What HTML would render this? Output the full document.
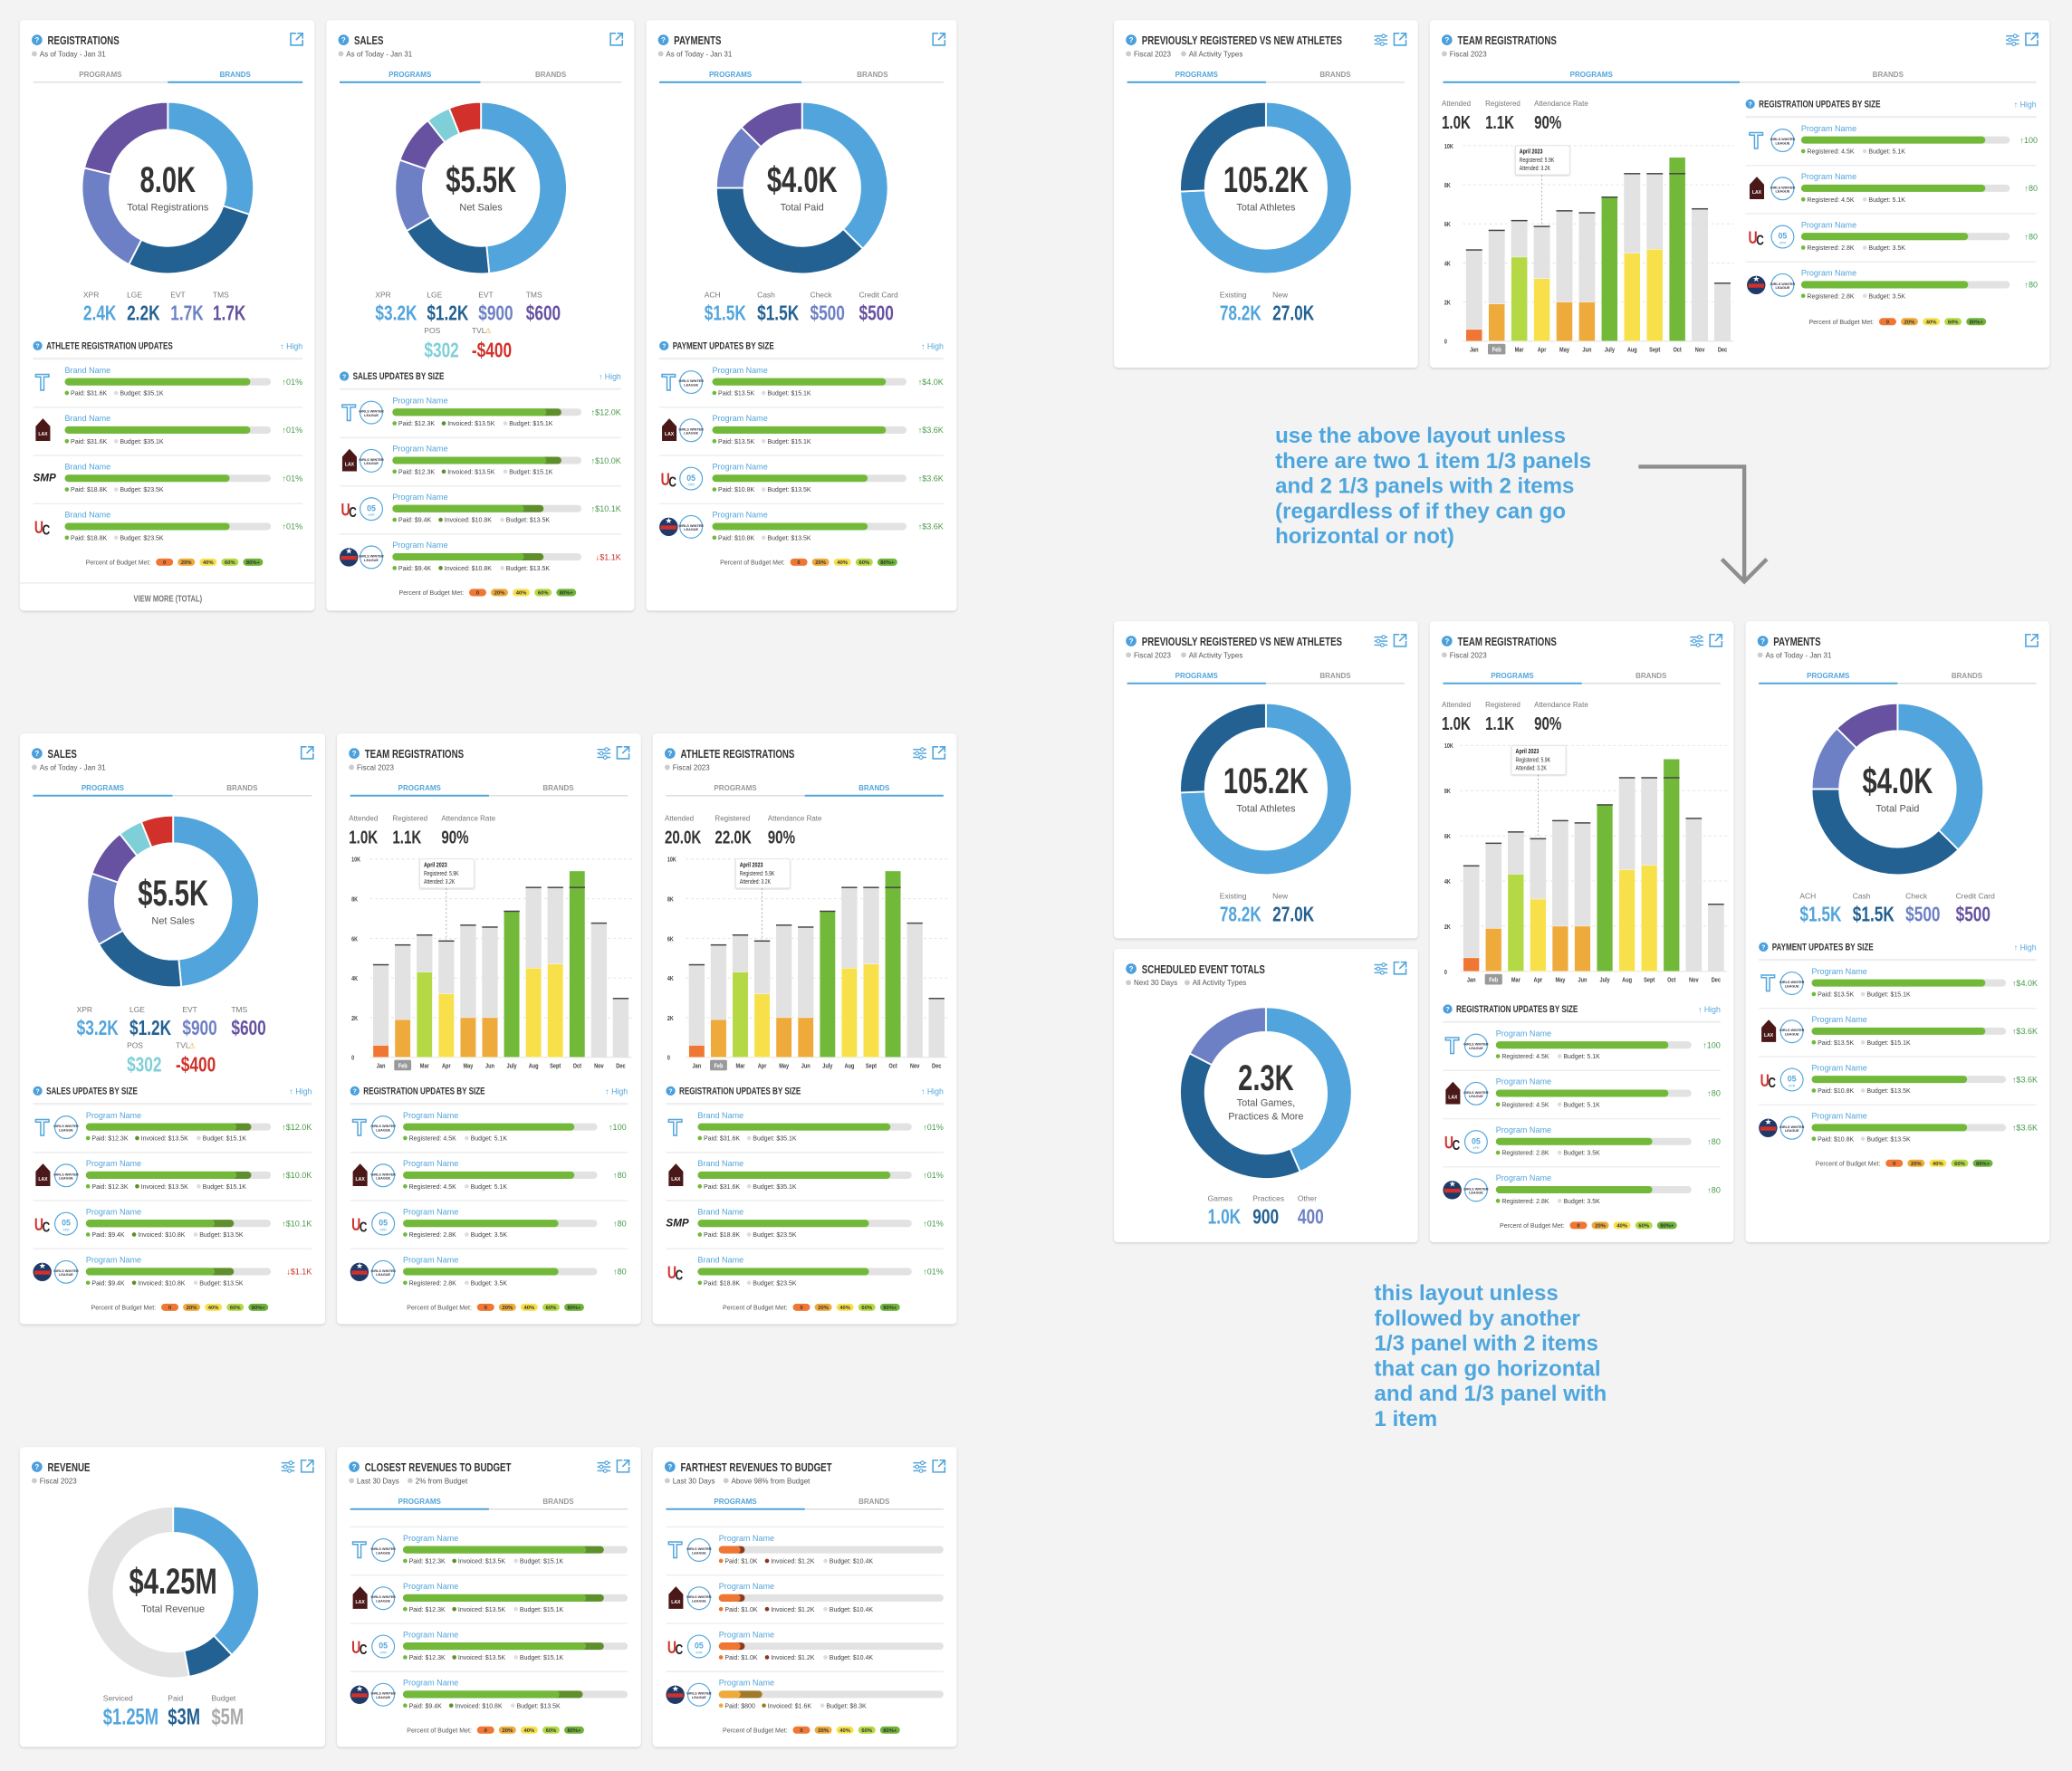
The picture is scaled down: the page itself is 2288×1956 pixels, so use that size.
<!DOCTYPE html>
<html><head><meta charset="utf-8">
<style>
html,body{margin:0;padding:0;background:#f3f3f3;overflow:hidden}
svg{display:block}
text{font-family:"Liberation Sans",sans-serif}
.n{font-family:"Liberation Sans Narrow","Liberation Sans",sans-serif}
</style></head>
<body>
<svg id="root" width="2288" height="1956" viewBox="0 0 1568 1340">
<defs><filter id="sh" x="-5%" y="-5%" width="110%" height="110%"><feDropShadow dx="0" dy="0.8" stdDeviation="1" flood-color="#000" flood-opacity="0.16"/></filter></defs>
<rect x="0" y="0" width="1568" height="1340" fill="#f3f3f3"/>
</svg>
<script>
// ---- chart data ----
const months=['Jan','Feb','Mar','Apr','May','Jun','July','Aug','Sept','Oct','Nov','Dec'];
const registeredK=[4.7,5.7,6.2,5.9,6.7,6.6,7.4,8.6,8.6,8.6,6.8,3.0];
const attendedK=[0.6,1.9,4.3,3.2,2.0,2.0,7.4,4.5,4.7,9.4,0,0];
const attendedBand=['orange','amber','lime','yellow','amber','amber','green','yellow','yellow','green','none','none'];
const yTicksK=[0,2,4,6,8,10];
const yTickLabels=['0','2K','4K','6K','8K','10K'];
const regValues=[2.4,2.2,1.7,1.7];
const regLabels=['XPR','LGE','EVT','TMS'];
const regPrinted=['2.4K','2.2K','1.7K','1.7K'];
const salesValues=[3.2,1.2,0.9,0.6,0.302,0.4];
const salesLabels=['XPR','LGE','EVT','TMS','POS','TVL'];
const salesPrinted=['$3.2K','$1.2K','$900','$600','$302','-$400'];
const payValues=[1.5,1.5,0.5,0.5];
const payLabels=['ACH','Cash','Check','Credit Card'];
const payPrinted=['$1.5K','$1.5K','$500','$500'];
const athleteValues=[78.2,27.0];
const athleteLabels=['Existing','New'];
const athletePrinted=['78.2K','27.0K'];
const eventValues=[1.0,0.9,0.4];
const eventLabels=['Games','Practices','Other'];
const eventPrinted=['1.0K','900','400'];
const revenueValues=[1.9,0.45,2.65];
const revenueLabels=['Serviced','Paid','Budget'];
const revenuePrinted=['$1.25M','$3M','$5M'];

const NS='http://www.w3.org/2000/svg';
const C={lb:'#52a5dc',db:'#236193',ind:'#6e80c5',pur:'#6652a0',teal:'#7fcfd8',red:'#d1312a',gray:'#e2e2e2',green:'#72b93a',dgreen:'#5e8f2c',orange:'#ef7733',amber:'#eeaa3a',yellow:'#f8e04b',lime:'#b5d944',g80:'#6fb43a',none:'none',brown:'#8a3a1e',olive:'#a07a2a'};
const root=document.getElementById('root');
function mk(tag,attrs,parent,name,inter){
  const e=document.createElementNS(NS,tag);
  for(const k in attrs)e.setAttribute(k,attrs[k]);
  
  
  parent.appendChild(e);return e;
}
function tx(p,x,y,s,size,fill,name,o){o=o||{};
  const a={x:x,y:y,'font-size':size,fill:fill,'font-weight':o.w||'normal','text-anchor':o.a||'start','class':o.n?'n':'','font-style':o.it?'italic':'normal'};
  if(o.n)a.transform='translate('+x+',0) scale(0.74,1) translate('+(-x)+',0)';
  const e=mk('text',a,p,name,o.i);
  e.textContent=s;return e;}
function arcPath(cx,cy,ro,ri,a0,a1){
  const r=a=>(a-90)*Math.PI/180;const p=(R,a)=>[cx+R*Math.cos(r(a)),cy+R*Math.sin(r(a))];
  const L=(a1-a0)>180?1:0;const A=p(ro,a0),B=p(ro,a1),Cc=p(ri,a1),D=p(ri,a0);
  return 'M'+A[0]+' '+A[1]+'A'+ro+' '+ro+' 0 '+L+' 1 '+B[0]+' '+B[1]+'L'+Cc[0]+' '+Cc[1]+'A'+ri+' '+ri+' 0 '+L+' 0 '+D[0]+' '+D[1]+'Z';}
function donut(g,cx,cy,ro,ri,vals,cols,names){
  const tot=vals.reduce((a,b)=>a+b,0);let a=0;
  vals.forEach((v,i)=>{const s=v/tot*360;mk('path',{d:arcPath(cx,cy,ro,ri,a,a+s),fill:cols[i],stroke:'#fff','stroke-width':1.3},g,'donut-slice-'+names[i].toLowerCase().replace(/ /g,'-'));a+=s;});}
function center(g,cx,y,big,lines){
  tx(g,cx,y,big,27,'#333','donut-center-value',{a:'middle',w:'bold',n:1});
  lines.forEach((l,i)=>tx(g,cx,y+14+i*10,l,7.5,'#555','donut-center-label',{a:'middle'}));}
function stats(g,xs,yl,yv,labels,printed,cols,size){
  labels.forEach((l,i)=>{tx(g,xs[i],yl,l,5.8,'#777','stat-label');
    tx(g,xs[i],yv,printed[i],size||16,cols[i],'stat-value',{w:'bold',n:1});});}
function panel(x,y,w,h,name){const g=mk('g',{},root,name);mk('rect',{x:x,y:y,width:w,height:h,rx:3,fill:'#fff',filter:'url(#sh)'},g,'panel-card');return g;}
function extIcon(g,ix,iy){mk('path',{d:'M'+(ix+4)+' '+iy+'H'+ix+'V'+(iy+9)+'H'+(ix+9)+'V'+(iy+5)+'M'+(ix+5)+' '+iy+'H'+(ix+9)+'V'+(iy+4)+'M'+(ix+9)+' '+iy+'L'+(ix+4)+' '+(iy+5),fill:'none',stroke:C.lb,'stroke-width':1.1},g,'open-external-icon',true);}
function filtIcon(g,ix,iy){const gg=mk('g',{},g,'filter-settings-icon',true);
  [1.5,4.5,7.5].forEach((d,i)=>{mk('line',{x1:ix,y1:iy+d,x2:ix+10,y2:iy+d,stroke:C.lb,'stroke-width':1},gg,'filter-line');
    mk('circle',{cx:ix+[7,3,6][i],cy:iy+d,r:1.3,fill:'#fff',stroke:C.lb,'stroke-width':0.8},gg,'filter-knob');});}
function header(g,x,y,w,title,subs,filt){
  mk('circle',{cx:x+13,cy:y+15,r:4,fill:'#4a9fdc'},g,'help-icon',true);
  tx(g,x+13,y+17,'?',5.5,'#fff','help-icon-glyph',{a:'middle',w:'bold'});
  tx(g,x+21,y+18.5,title,9,'#333','panel-title',{w:'bold',n:1});
  let sx=x+11;subs.forEach(s=>{mk('circle',{cx:sx,cy:y+25.5,r:2,fill:'#ccc'},g,'subtitle-dot');
    tx(g,sx+4,y+27.5,s,5.5,'#555','panel-subtitle');sx+=s.length*2.7+12;});
  extIcon(g,x+w-18,y+10);if(filt)filtIcon(g,x+w-33,y+10.5);}
function tabs(g,x,y,w,active){
  tx(g,x+w/4,y,'PROGRAMS',5.5,active==0?C.lb:'#999','programs-tab',{a:'middle',w:'bold',i:1});
  tx(g,x+3*w/4,y,'BRANDS',5.5,active==1?C.lb:'#999','brands-tab',{a:'middle',w:'bold',i:1});
  mk('line',{x1:x,y1:y+4,x2:x+w,y2:y+4,stroke:'#ddd','stroke-width':1},g,'tab-divider');
  mk('line',{x1:active?x+w/2:x,y1:y+4,x2:active?x+w:x+w/2,y2:y+4,stroke:C.lb,'stroke-width':1.4},g,'active-tab-underline');}
function section(g,x,y,w,title){
  mk('circle',{cx:x+3.5,cy:y-2.5,r:3.5,fill:'#4a9fdc'},g,'section-help-icon',true);
  tx(g,x+3.5,y-0.6,'?',4.8,'#fff','help-icon-glyph',{a:'middle',w:'bold'});
  tx(g,x+10,y,title,7.5,'#333','section-title',{w:'bold',n:1});
  tx(g,x+w,y,'↑ High',6,C.lb,'sort-high-toggle',{a:'end',i:1});
  mk('line',{x1:x,y1:y+7,x2:x+w,y2:y+7,stroke:'#eee','stroke-width':1},g,'section-divider');}
function brandLogo(g,x,y,t){
  if(t=='T'){tx(g,x+7,y+6,'T',17,'none','brand-logo-t',{a:'middle',w:'bold'}).setAttribute('stroke',C.lb);}
  else if(t=='lax'){mk('polygon',{points:[x+2,y+8,x+2,y-3,x+7.5,y-9,x+13,y-3,x+13,y+8].join(' '),fill:'#4a1818'},g,'brand-logo-lax');tx(g,x+7.5,y+4,'LAX',3.5,'#fff','brand-logo-text',{a:'middle',w:'bold'});}
  else if(t=='smp'){tx(g,x,y+2,'SMP',8,'#222','brand-logo-smp',{w:'bold',it:1});}
  else if(t=='uc'){tx(g,x+1,y+5,'U',13,C.red,'brand-logo-uc',{w:'bold',n:1});tx(g,x+7,y+6,'C',11,'#222','brand-logo-uc',{w:'bold',n:1});}
  else {mk('circle',{cx:x+7,cy:y,r:7,fill:'#1f3a68'},g,'brand-logo-star');mk('rect',{x:x+1,y:y-1,width:12,height:3,fill:C.red},g,'brand-logo-band');tx(g,x+7,y-2.5,'★',6,'#fff','brand-logo-star-glyph',{a:'middle'});}}
function circLogo(g,cx,cy,i){
  mk('circle',{cx:cx,cy:cy,r:8.5,fill:'#fff',stroke:C.lb,'stroke-width':0.8},g,'program-logo',false);
  if(i==2){tx(g,cx,cy+1.5,'05',6,C.lb,'program-logo-text',{a:'middle',w:'bold'});tx(g,cx,cy+5.5,'XPR',2.5,C.lb,'program-logo-text',{a:'middle'});}
  else{tx(g,cx,cy,'GIRLS WINTER',2.6,'#334','program-logo-text',{a:'middle',w:'bold'});tx(g,cx,cy+3,'LEAGUE',2.6,'#334','program-logo-text',{a:'middle',w:'bold'});}}
const BL=['T','lax','uc','star'],BB=['T','lax','smp','uc'];
function row(g,L,y,i,r){
  mk('line',{x1:L.sx0,y1:y-10.5,x2:L.sx1,y2:y-10.5,stroke:'#eee','stroke-width':1},g,'row-divider');
  if(L.two){brandLogo(g,L.lx,y+7,BL[i]);circLogo(g,L.cx,y+7,i);}else brandLogo(g,L.lx,y+7,BB[i]);
  tx(g,L.nx,y,r.name,6.2,C.lb,'row-name-link',{i:1});
  const bw=L.bx1-L.nx;
  mk('rect',{x:L.nx,y:y+4,width:bw,height:5.5,rx:2.75,fill:C.gray},g,'row-bar-track');
  let cum=r.segs.reduce((a,s)=>a+s.v,0);
  for(let k=r.segs.length-1;k>=0;k--){mk('rect',{x:L.nx,y:y+4,width:Math.min(1,cum/r.total)*bw,height:5.5,rx:2.75,fill:r.segs[k].c},g,'row-bar-'+r.segs[k].n);cum-=r.segs[k].v;}
  if(r.val)tx(g,L.vx,y+9,r.val,6.2,r.neg?C.red:'#4a9a4a','row-change-value',{a:'end'});
  let lx=L.nx;r.leg.forEach(it=>{mk('circle',{cx:lx+1.6,cy:y+15.2,r:1.6,fill:it[0]},g,'legend-dot');
    tx(g,lx+4.5,y+17,it[1],4.8,'#444','row-legend-text');lx+=it[1].length*2.35+9;});}
function pctLegend(g,cx,y){
  tx(g,cx-13,y,'Percent of Budget Met:',4.8,'#555','budget-legend-title',{a:'end'});
  const pl=['0','20%','40%','60%','80%+'],pc=[C.orange,C.amber,C.yellow,C.lime,C.g80];let x=cx-9;
  pl.forEach((p,i)=>{const w=i==4?15:13;mk('rect',{x:x,y:y-4.5,width:w,height:5.5,rx:2.75,fill:pc[i]},g,'budget-legend-pill');
    tx(g,x+w/2,y-0.3,p,4,'#333','budget-legend-pill-label',{a:'middle',w:'bold'});x+=w+3.5;});}
function barChart(g,lx,x0,x1,yT,yB){
  const yv=v=>yB-v/10*(yB-yT);
  yTicksK.forEach((t,i)=>{tx(g,lx,yv(t)+2,yTickLabels[i],5,'#444','y-tick-label',{w:'bold',n:1});
    mk('line',{x1:x0,y1:yv(t),x2:x1,y2:yv(t),stroke:'#e4e4e4','stroke-width':0.7,'stroke-dasharray':i?'2 2':'0'},g,'gridline');});
  const step=(x1-x0)/months.length,bw=step*0.72;
  months.forEach((m,i)=>{const xc=x0+step*(i+0.5);
    mk('rect',{x:xc-bw/2,y:yv(registeredK[i]),width:bw,height:yB-yv(registeredK[i]),fill:C.gray},g,'bar-registered-'+m.toLowerCase());
    if(attendedK[i]>0)mk('rect',{x:xc-bw/2,y:yv(attendedK[i]),width:bw,height:yB-yv(attendedK[i]),fill:C[attendedBand[i]],stroke:'#fff','stroke-width':0.3},g,'bar-attended-'+m.toLowerCase());
    mk('rect',{x:xc-bw/2,y:yv(registeredK[i]),width:bw,height:1,fill:'#444'},g,'bar-registered-cap');
    if(i==1)mk('rect',{x:xc-bw/2-0.5,y:yB+2,width:bw+1,height:8,rx:1,fill:'#999'},g,'selected-month-highlight');
    tx(g,xc,yB+8,m,5.2,i==1?'#fff':'#444','month-label',{a:'middle',w:'bold',n:1,i:1});});
  const ai=3,xa=x0+step*(ai+0.5);
  mk('line',{x1:xa,y1:yT+22,x2:xa,y2:yv(registeredK[ai]),stroke:'#999','stroke-width':0.5,'stroke-dasharray':'1.5 1.5'},g,'tooltip-guide');
  mk('rect',{x:xa-20,y:yT,width:41,height:22,rx:1,fill:'#fff',stroke:'#ddd','stroke-width':0.5,filter:'url(#sh)'},g,'chart-tooltip');
  tx(g,xa-17,yT+6,'April 2023',5,'#222','tooltip-title',{w:'bold',n:1});
  tx(g,xa-17,yT+12.5,'Registered: '+registeredK[ai]+'K',4.8,'#333','tooltip-registered',{n:1});
  tx(g,xa-17,yT+18.5,'Attended: '+attendedK[ai]+'K',4.8,'#333','tooltip-attended',{n:1});}
function teamStats(g,xs,yl,yv,vals){['Attended','Registered','Attendance Rate'].forEach((l,i)=>{tx(g,xs[i],yl,l,5.5,'#777','stat-label');tx(g,xs[i],yv,vals[i],14,'#333','stat-value',{w:'bold',n:1});});}

// row datasets
const G=C.green,DG=C.dgreen;
const brandRows=[[31.6,35.1],[31.6,35.1],[18.8,23.5],[18.8,23.5]].map(d=>({name:'Brand Name',total:d[1],segs:[{v:d[0],c:G,n:'paid'}],val:'↑01%',leg:[[G,'Paid: $'+d[0]+'K'],['#ddd','Budget: $'+d[1]+'K']]}));
const salesRows=[[12.3,1.2,15.1,'↑$12.0K'],[12.3,1.2,15.1,'↑$10.0K'],[9.4,1.4,13.5,'↑$10.1K'],[9.4,1.4,13.5,'↓$1.1K']].map(d=>({name:'Program Name',total:d[2],neg:d[3][0]=='↓',segs:[{v:d[0],c:G,n:'paid'},{v:d[1],c:DG,n:'invoiced'}],val:d[3],leg:[[G,'Paid: $'+d[0]+'K'],[DG,'Invoiced: $'+(d[0]+d[1]).toFixed(1)+'K'],['#ddd','Budget: $'+d[2]+'K']]}));
const payRows=[[13.5,15.1,'↑$4.0K'],[13.5,15.1,'↑$3.6K'],[10.8,13.5,'↑$3.6K'],[10.8,13.5,'↑$3.6K']].map(d=>({name:'Program Name',total:d[1],segs:[{v:d[0],c:G,n:'paid'}],val:d[2],leg:[[G,'Paid: $'+d[0]+'K'],['#ddd','Budget: $'+d[1]+'K']]}));
const regRows=[[4.5,5.1,'↑100'],[4.5,5.1,'↑80'],[2.8,3.5,'↑80'],[2.8,3.5,'↑80']].map(d=>({name:'Program Name',total:d[1],segs:[{v:d[0],c:G,n:'registered'}],val:d[2],leg:[[G,'Registered: '+d[0]+'K'],['#ddd','Budget: '+d[1]+'K']]}));
const closeRows=[[12.3,1.2,15.1],[12.3,1.2,15.1],[12.3,1.2,15.1],[9.4,1.4,13.5]].map(d=>({name:'Program Name',total:d[2],segs:[{v:d[0],c:G,n:'paid'},{v:d[1],c:DG,n:'invoiced'}],leg:[[G,'Paid: $'+d[0]+'K'],[DG,'Invoiced: $'+(d[0]+d[1]).toFixed(1)+'K'],['#ddd','Budget: $'+d[2]+'K']]}));
const farRows=[[1.0,0.2,10.4,C.orange,C.brown,'$1.0K','$1.2K'],[1.0,0.2,10.4,C.orange,C.brown,'$1.0K','$1.2K'],[1.0,0.2,10.4,C.orange,C.brown,'$1.0K','$1.2K'],[0.8,0.8,8.3,C.amber,C.olive,'$800','$1.6K']].map(d=>({name:'Program Name',total:d[2],segs:[{v:d[0],c:d[3],n:'paid'},{v:d[1],c:d[4],n:'invoiced'}],leg:[[d[3],'Paid: '+d[5]],[d[4],'Invoiced: '+d[6]],['#ddd','Budget: $'+d[2]+'K']]}));
function rows(g,L,ys,data){ys.forEach((y,i)=>row(g,L,y,i,data[i]));}
const sp=[0,36.5,73,109.5];
const Y=b=>sp.map(s=>b+s);
const RC=[C.lb,C.db,C.ind,C.pur],SC=[C.lb,C.db,C.ind,C.pur,C.teal,C.red];

// P1 registrations
let g=panel(15,15,223,447,'registrations-panel');
header(g,15,15,223,'REGISTRATIONS',['As of Today - Jan 31'],false);tabs(g,25,58,204,1);
donut(g,127,142,65,44,regValues,RC,regLabels);center(g,127,145,'8.0K',['Total Registrations']);
stats(g,[63,96,129,161],225,242,regLabels,regPrinted,RC);
section(g,25,264,204,'ATHLETE REGISTRATION UPDATES');
rows(g,{sx0:25,sx1:229,lx:25,nx:49,bx1:205,vx:229,two:false},Y(282),brandRows);
pctLegend(g,127,427);
mk('line',{x1:15,y1:441,x2:238,y2:441,stroke:'#eee','stroke-width':1},g,'footer-divider');
tx(g,127,455,'VIEW MORE (TOTAL)',7,'#777','view-more-link',{a:'middle',w:'bold',n:1,i:1});

// P2 sales
g=panel(247,15,233,447,'sales-panel');
header(g,247,15,233,'SALES',['As of Today - Jan 31'],false);tabs(g,257,58,213,0);
donut(g,364,142,65,44,salesValues,SC,salesLabels);center(g,364,145,'$5.5K',['Net Sales']);
stats(g,[284,323,362,398],225,242,salesLabels.slice(0,4),salesPrinted.slice(0,4),SC);
stats(g,[321,357],252,270,salesLabels.slice(4),salesPrinted.slice(4),SC.slice(4));
tx(g,367,252,'⚠',5.5,'#f0a020','warning-icon');
section(g,257,287,213,'SALES UPDATES BY SIZE');
rows(g,{sx0:257,sx1:470,lx:257,cx:281,nx:297,bx1:440,vx:470,two:true},Y(305),salesRows);
pctLegend(g,364,450);

// P3 payments
g=panel(489,15,235,447,'payments-panel');
header(g,489,15,235,'PAYMENTS',['As of Today - Jan 31'],false);tabs(g,499,58,215,0);
donut(g,607,142,65,44,payValues,RC,payLabels);center(g,607,145,'$4.0K',['Total Paid']);
stats(g,[533,573,613,650],225,242,payLabels,payPrinted,RC);
section(g,499,264,215,'PAYMENT UPDATES  BY SIZE');
rows(g,{sx0:499,sx1:714,lx:499,cx:523,nx:539,bx1:686,vx:714,two:true},Y(282),payRows);
pctLegend(g,607,427);

// P4 prev registered
g=panel(843,15,230,263,'previously-registered-panel');
header(g,843,15,230,'PREVIOUSLY REGISTERED VS NEW ATHLETES',['Fiscal 2023','All Activity Types'],true);tabs(g,853,58,210,0);
donut(g,958,142,65,46,athleteValues,[C.lb,C.db],athleteLabels);center(g,958,145,'105.2K',['Total Athletes']);
stats(g,[923,963],225,242,athleteLabels,athletePrinted,[C.lb,C.db]);

// P5 team registrations wide
g=panel(1082,15,469,263,'team-registrations-wide-panel');
header(g,1082,15,469,'TEAM REGISTRATIONS',['Fiscal 2023'],true);tabs(g,1092,58,449,0);
teamStats(g,[1091,1124,1161],80,97,['1.0K','1.1K','90%']);
barChart(g,1093,1107,1312,110,258);
section(g,1321,81,220,'REGISTRATION UPDATES BY SIZE');
rows(g,{sx0:1321,sx1:1541,lx:1322,cx:1349,nx:1363,bx1:1521,vx:1542,two:true},Y(99),regRows);
pctLegend(g,1431,245);

// annotations
const note1=['use the above layout unless','there are two 1 item 1/3 panels','and 2 1/3 panels with 2 items','(regardless of if they can go','horizontal or not)'];
note1.forEach((l,i)=>tx(root,965,335+i*19,l,16.5,'#4ea6de','layout-note-1',{w:'bold'}));
mk('polyline',{points:'1240,353 1320,353 1320,438',fill:'none',stroke:'#8e8e8e','stroke-width':3},root,'flow-arrow');
mk('polyline',{points:'1303,423 1320,440 1337,423',fill:'none',stroke:'#8e8e8e','stroke-width':3},root,'flow-arrowhead');
const note2=['this layout unless','followed by another','1/3 panel with 2 items','that can go horizontal','and and 1/3 panel with','1 item'];
note2.forEach((l,i)=>tx(root,1040,984+i*19,l,16.5,'#4ea6de','layout-note-2',{w:'bold'}));

// P6
g=panel(843,470,230,240,'previously-registered-panel-2');
header(g,843,470,230,'PREVIOUSLY REGISTERED VS NEW ATHLETES',['Fiscal 2023','All Activity Types'],true);tabs(g,853,513,210,0);
donut(g,958,597,65,46,athleteValues,[C.lb,C.db],athleteLabels);center(g,958,600,'105.2K',['Total Athletes']);
stats(g,[923,963],680,697,athleteLabels,athletePrinted,[C.lb,C.db]);

// P7 scheduled
g=panel(843,718,230,222,'scheduled-event-totals-panel');
header(g,843,718,230,'SCHEDULED EVENT TOTALS',['Next 30 Days','All Activity Types'],true);
donut(g,958,827,65,46,eventValues,[C.lb,C.db,C.ind],eventLabels);
tx(g,958,825,'2.3K',27,'#333','donut-center-value',{a:'middle',w:'bold',n:1});
tx(g,958,837,'Total Games,',7.5,'#555','donut-center-label',{a:'middle'});
tx(g,958,847,'Practices & More',7.5,'#555','donut-center-label',{a:'middle'});
stats(g,[914,948,982],909,926,eventLabels,eventPrinted,[C.lb,C.db,C.ind]);

// P8 team reg narrow
g=panel(1082,470,230,470,'team-registrations-panel-2');
header(g,1082,470,230,'TEAM REGISTRATIONS',['Fiscal 2023'],true);tabs(g,1092,513,210,0);
teamStats(g,[1091,1124,1161],535,552,['1.0K','1.1K','90%']);
barChart(g,1093,1105,1307,564,735);
section(g,1092,766,210,'REGISTRATION UPDATES BY SIZE');
rows(g,{sx0:1092,sx1:1302,lx:1092,cx:1117,nx:1132,bx1:1280,vx:1302,two:true},Y(784),regRows);
pctLegend(g,1197,929);

// P9 payments
g=panel(1321,470,230,470,'payments-panel-2');
header(g,1321,470,230,'PAYMENTS',['As of Today - Jan 31'],false);tabs(g,1331,513,210,0);
donut(g,1436,597,65,44,payValues,RC,payLabels);center(g,1436,600,'$4.0K',['Total Paid']);
stats(g,[1362,1402,1442,1480],680,697,payLabels,payPrinted,RC);
section(g,1331,719,210,'PAYMENT UPDATES  BY SIZE');
rows(g,{sx0:1331,sx1:1541,lx:1331,cx:1356,nx:1371,bx1:1518,vx:1542,two:true},Y(737),payRows);
pctLegend(g,1436,882);

// P10 sales
g=panel(15,555,231,447,'sales-panel-2');
header(g,15,555,231,'SALES',['As of Today - Jan 31'],false);tabs(g,25,598,211,0);
donut(g,131,682,65,44,salesValues,SC,salesLabels);center(g,131,685,'$5.5K',['Net Sales']);
stats(g,[58,98,138,175],766,783,salesLabels.slice(0,4),salesPrinted.slice(0,4),SC);
stats(g,[96,133],793,811,salesLabels.slice(4),salesPrinted.slice(4),SC.slice(4));
tx(g,143,793,'⚠',5.5,'#f0a020','warning-icon');
section(g,25,828,211,'SALES UPDATES BY SIZE');
rows(g,{sx0:25,sx1:236,lx:25,cx:50,nx:65,bx1:205,vx:236,two:true},Y(846),salesRows);
pctLegend(g,131,991);

// P11 team registrations
g=panel(255,555,230,447,'team-registrations-panel-3');
header(g,255,555,230,'TEAM REGISTRATIONS',['Fiscal 2023'],true);tabs(g,265,598,210,0);
teamStats(g,[264,297,334],621,638,['1.0K','1.1K','90%']);
barChart(g,266,280,478,650,800);
section(g,265,828,210,'REGISTRATION UPDATES BY SIZE');
rows(g,{sx0:265,sx1:475,lx:265,cx:290,nx:305,bx1:452,vx:474,two:true},Y(846),regRows);
pctLegend(g,370,991);

// P12 athlete registrations
g=panel(494,555,230,447,'athlete-registrations-panel');
header(g,494,555,230,'ATHLETE REGISTRATIONS',['Fiscal 2023'],true);tabs(g,504,598,210,1);
teamStats(g,[503,541,581],621,638,['20.0K','22.0K','90%']);
barChart(g,505,519,717,650,800);
section(g,504,828,210,'REGISTRATION UPDATES BY SIZE');
rows(g,{sx0:504,sx1:714,lx:504,nx:528,bx1:690,vx:714,two:false},Y(846),brandRows);
pctLegend(g,609,991);

// P13 revenue
g=panel(15,1095,231,227,'revenue-panel');
header(g,15,1095,231,'REVENUE',['Fiscal 2023'],true);
donut(g,131,1205,65,45,revenueValues,[C.lb,C.db,C.gray],revenueLabels);center(g,131,1206,'$4.25M',['Total Revenue']);
stats(g,[78,127,160],1287,1305,revenueLabels,revenuePrinted,[C.lb,C.db,'#aaa'],17);

// P14 closest
g=panel(255,1095,230,227,'closest-revenues-panel');
header(g,255,1095,230,'CLOSEST REVENUES TO BUDGET',['Last 30 Days','2% from Budget'],true);tabs(g,265,1138,210,0);
rows(g,{sx0:265,sx1:475,lx:265,cx:290,nx:305,bx1:475,two:true},Y(1166),closeRows);
pctLegend(g,370,1311);

// P15 farthest
g=panel(494,1095,230,227,'farthest-revenues-panel');
header(g,494,1095,230,'FARTHEST REVENUES TO BUDGET',['Last 30 Days','Above 98% from Budget'],true);tabs(g,504,1138,210,0);
rows(g,{sx0:504,sx1:714,lx:504,cx:529,nx:544,bx1:714,two:true},Y(1166),farRows);
pctLegend(g,609,1311);
</script>
</body></html>
